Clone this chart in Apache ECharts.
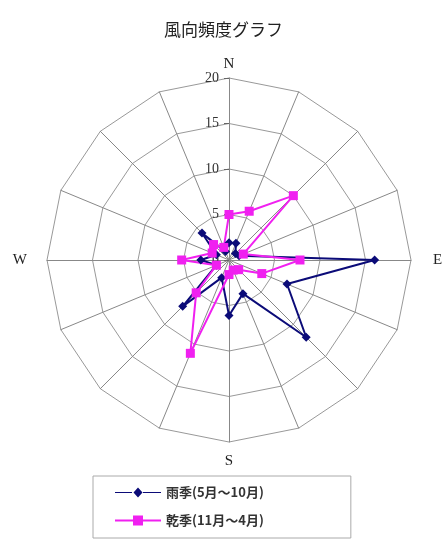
<!DOCTYPE html>
<html>
<head>
<meta charset="utf-8">
<script src="https://cdn.jsdelivr.net/npm/echarts@6/dist/echarts.min.js"></script>
<style>
  html, body { margin: 0; padding: 0; background: #fff; }
  #chart { width: 447px; height: 539px; }
</style>
</head>
<body>
<div id="chart"></div>
<script>
// 16 compass directions, clockwise from north
const directions = ['N', 'NNE', 'NE', 'ENE', 'E', 'ESE', 'SE', 'SSE', 'S', 'SSW', 'SW', 'WSW', 'W', 'WNW', 'NW', 'NNW'];
const shownNames = { N: 'N', E: 'E', S: 'S', W: 'W' };
// frequency (%) per direction, same order as directions
const rainySeason = [1.9, 2.0, 1.0, 1.2, 16.0, 6.9, 12.0, 4.0, 6.1, 2.1, 7.2, 1.5, 3.1, 1.5, 4.2, 1.0];
const drySeason = [5.0, 5.8, 10.0, 1.7, 7.8, 3.9, 1.5, 1.2, 1.6, 11.1, 5.1, 1.5, 5.2, 2.0, 2.4, 1.5];
const seriesNames = ['雨季(5月～10月)', '乾季(11月～4月)'];
const tickValues = [0, 5, 10, 15, 20];
const maxValue = 20;

const rainyColor = '#0b0b78';
const dryColor = '#f020f0';

// distance of each compass letter from the outer ring
const nameGaps = { N: 6, E: 22, S: 12, W: 20 };

// radar indicators run counter-clockwise, so walk the compass backwards
const order = directions.map((d, i) => (16 - i) % 16);
const reorder = arr => order.map(i => arr[i]);

const indicators = order.map((idx, k) => {
  const dir = directions[idx];
  const name = shownNames[dir] || '';
  const ind = { name: name, max: maxValue, min: 0 };
  if (nameGaps[dir] != null) ind.nameGap = nameGaps[dir];
  if (k === 0) {
    ind.axisLabel = {
      show: true, margin: 10, color: '#333',
      fontFamily: 'Liberation Serif', fontSize: 14,
      formatter: v => tickValues.includes(v) ? String(v) : ''
    };
    ind.axisTick = { show: true, length: 5, lineStyle: { color: '#666' } };
  }
  return ind;
});

// legend glyphs: a line with the series marker in the middle
const lineWithDiamond = 'path://M0,4.4L17,4.4L17,5.4L0,5.4Z M28,4.4L46,4.4L46,5.4L28,5.4Z M23,0L27.5,4.9L23,9.8L18.5,4.9Z';
const lineWithSquare = 'path://M0,3.9L18,3.9L18,5.9L0,5.9Z M28,3.9L46,3.9L46,5.9L28,5.9Z M18,0L28,0L28,9.8L18,9.8Z';

const chart = echarts.init(document.getElementById('chart'), null, { renderer: 'canvas' });
chart.setOption({
  backgroundColor: '#fff',
  animation: false,
  title: {
    text: '風向頻度グラフ',
    left: 'center', top: 16,
    textStyle: { fontFamily: 'Noto Sans CJK JP', fontSize: 17, fontWeight: 'normal', color: '#222' }
  },
  legend: {
    orient: 'vertical',
    left: 93, top: 476,
    padding: [10, 87, 11, 22],
    itemGap: 15,
    itemWidth: 46, itemHeight: 10,
    borderColor: '#aaa', borderWidth: 1,
    textStyle: { fontFamily: 'Noto Sans CJK JP', fontSize: 13, fontWeight: 'bold', color: '#333' },
    data: [
      { name: seriesNames[0], icon: lineWithDiamond, itemStyle: { color: rainyColor } },
      { name: seriesNames[1], icon: lineWithSquare, itemStyle: { color: dryColor } }
    ]
  },
  radar: {
    center: [229, 260],
    radius: 182,
    startAngle: 90,
    shape: 'polygon',
    splitNumber: 4,
    indicator: indicators,
    axisName: { color: '#222', fontFamily: 'Liberation Serif', fontSize: 15 },
    nameGap: 13,
    axisLine: { lineStyle: { color: '#888', width: 1 } },
    axisTick: { show: false },
    axisLabel: { show: false },
    splitLine: { lineStyle: { color: '#999', width: 1 } },
    splitArea: { show: false }
  },
  series: [{
    type: 'radar',
    z: 2,
    data: [
      {
        name: seriesNames[0],
        value: reorder(rainySeason),
        symbol: 'diamond', symbolSize: 9,
        lineStyle: { color: rainyColor, width: 2 },
        itemStyle: { color: rainyColor }
      },
      {
        name: seriesNames[1],
        value: reorder(drySeason),
        symbol: 'rect', symbolSize: 9,
        lineStyle: { color: dryColor, width: 2 },
        itemStyle: { color: dryColor }
      }
    ]
  }]
});
</script>
</body>
</html>
